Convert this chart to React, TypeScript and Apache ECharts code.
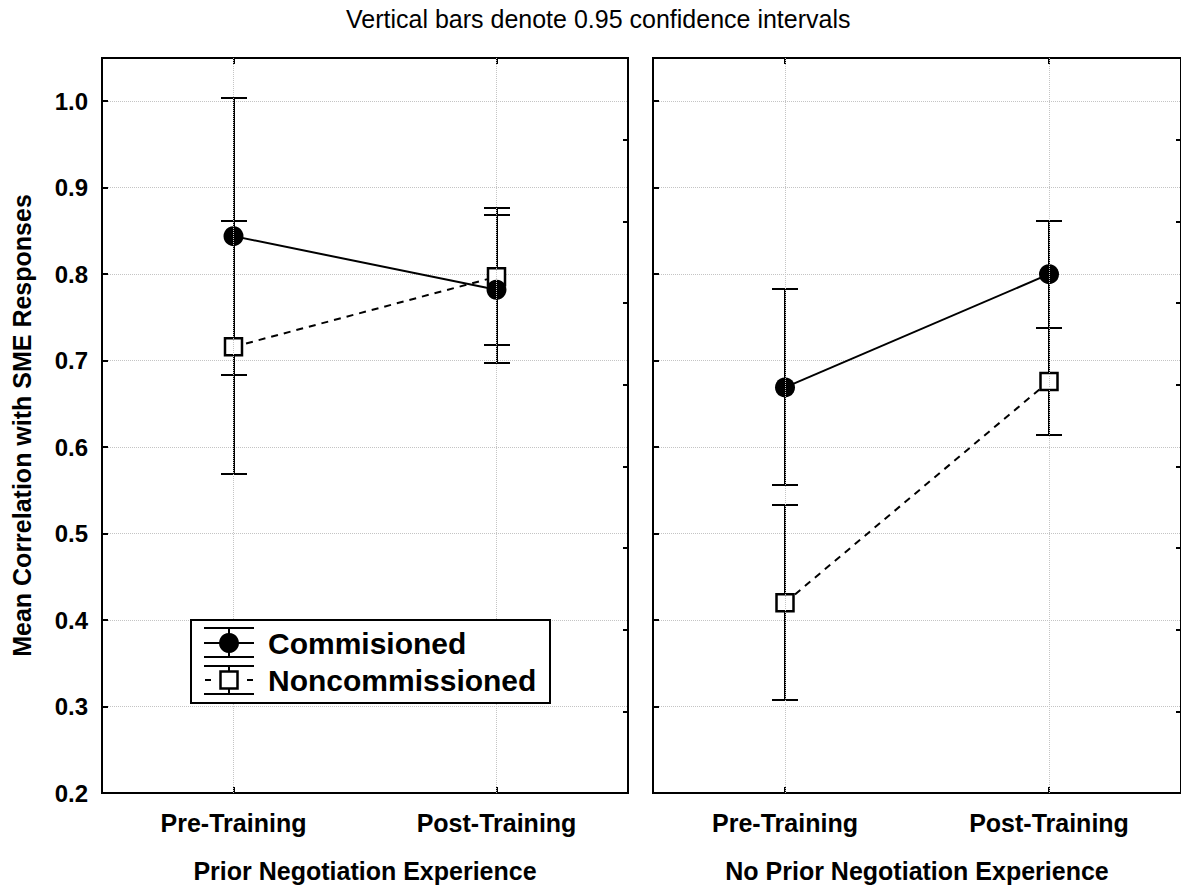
import React, { useEffect, useRef } from 'react';
import * as echarts from 'echarts';

const categories = ['Pre-Training', 'Post-Training'];
const panelNames = ['Prior Negotiation Experience', 'No Prior Negotiation Experience'];
const seriesNames = ['Commisioned', 'Noncommissioned'];
const titleText = 'Vertical bars denote 0.95 confidence intervals';
const yAxisName = 'Mean Correlation with SME Responses';

// Prior negotiation experience
const priorCommMean = [0.844, 0.782];
const priorCommLow = [0.683, 0.697];
const priorCommHigh = [1.004, 0.869];
const priorNonMean = [0.716, 0.797];
const priorNonLow = [0.569, 0.718];
const priorNonHigh = [0.862, 0.876];

// No prior negotiation experience
const noPriorCommMean = [0.669, 0.8];
const noPriorCommLow = [0.556, 0.738];
const noPriorCommHigh = [0.783, 0.861];
const noPriorNonMean = [0.42, 0.676];
const noPriorNonLow = [0.307, 0.614];
const noPriorNonHigh = [0.533, 0.738];

const FONT = '"Liberation Sans", Arial, Helvetica, sans-serif';

const panels = [
  {
    comm: priorCommMean, commLo: priorCommLow, commHi: priorCommHigh,
    non: priorNonMean, nonLo: priorNonLow, nonHi: priorNonHigh,
  },
  {
    comm: noPriorCommMean, commLo: noPriorCommLow, commHi: noPriorCommHigh,
    non: noPriorNonMean, nonLo: noPriorNonLow, nonHi: noPriorNonHigh,
  },
];

const renderErrorBar = (_params: any, api: any) => {
  const x = api.value(0);
  const lo = api.coord([x, api.value(1)]);
  const hi = api.coord([x, api.value(2)]);
  const hw = 13;
  const cx = Math.round(lo[0]);
  const yl = Math.round(lo[1]);
  const yh = Math.round(hi[1]);
  const style = { stroke: '#000', lineWidth: 2, fill: null };
  return {
    type: 'group',
    children: [
      { type: 'line', shape: { x1: cx, y1: yl, x2: cx, y2: yh }, style },
      { type: 'line', shape: { x1: cx - hw, y1: yl, x2: cx + hw, y2: yl }, style },
      { type: 'line', shape: { x1: cx - hw, y1: yh, x2: cx + hw, y2: yh }, style },
    ],
  };
};

export default function App() {
  const ref = useRef<HTMLDivElement>(null);

  useEffect(() => {
    document.body.style.margin = '0';
    if (!ref.current) return;
    const chart = echarts.init(ref.current, undefined, { renderer: 'svg' });

    const gridLine = { show: true, lineStyle: { color: '#c4c4c4', type: 'dotted', width: 1 } };
    const tickStyle = { color: '#000', width: 2 };

    const grids = [
      { left: 102, top: 58, width: 526, height: 736 },
      { left: 653, top: 58, width: 529, height: 736 },
    ].map((g) => ({ ...g, show: true, borderColor: '#000', borderWidth: 2, backgroundColor: 'transparent', z: 1 }));

    const xAxes: any[] = [];
    const yAxes: any[] = [];
    const series: any[] = [];

    panels.forEach((p, i) => {
      xAxes.push({
        type: 'category',
        gridIndex: i,
        position: 'bottom',
        data: categories,
        boundaryGap: true,
        axisLine: { show: false },
        axisTick: { show: true, inside: true, alignWithLabel: true, length: 6, lineStyle: tickStyle },
        axisLabel: { show: true, color: '#000', fontFamily: FONT, fontSize: 25, fontWeight: 'bold', margin: 17 },
        splitLine: { show: false },
        name: panelNames[i],
        nameLocation: 'middle',
        nameGap: 65,
        nameTextStyle: { color: '#000', fontFamily: FONT, fontSize: 25, fontWeight: 'bold' },
      });
      xAxes.push({
        type: 'category',
        gridIndex: i,
        position: 'top',
        data: categories,
        boundaryGap: true,
        axisLine: { show: false },
        axisTick: { show: true, inside: true, alignWithLabel: true, length: 6, lineStyle: tickStyle },
        axisLabel: { show: false },
        splitLine: { show: false },
      });
      yAxes.push({
        type: 'value',
        gridIndex: i,
        position: 'left',
        min: 0.2,
        max: 1.05,
        interval: 0.1,
        axisLine: { show: false },
        axisTick: { show: true, inside: true, length: 6, lineStyle: tickStyle },
        axisLabel: {
          show: i === 0,
          showMaxLabel: false,
          color: '#000',
          fontFamily: FONT,
          fontSize: 24,
          fontWeight: 'bold',
          margin: 14,
          formatter: (v: number) => (v > 1.001 ? '' : v.toFixed(1)),
        },
        splitLine: gridLine,
        ...(i === 0
          ? {
              name: yAxisName,
              nameLocation: 'middle',
              nameRotate: 90,
              nameGap: 68,
              nameTextStyle: { color: '#000', fontFamily: FONT, fontSize: 25, fontWeight: 'bold' },
            }
          : {}),
      });
      yAxes.push({
        type: 'value',
        gridIndex: i,
        position: 'right',
        min: 0,
        max: 9,
        interval: 1,
        axisLine: { show: false },
        axisTick: { show: true, inside: true, length: 5, lineStyle: tickStyle },
        axisLabel: { show: false },
        splitLine: { show: false },
      });

      const xi = 2 * i;
      const yi = 2 * i;
      const barData = [
        ...categories.map((_, k) => [k, p.commLo[k], p.commHi[k]]),
        ...categories.map((_, k) => [k, p.nonLo[k], p.nonHi[k]]),
      ];
      series.push({
        type: 'custom',
        xAxisIndex: xi,
        yAxisIndex: yi,
        renderItem: renderErrorBar,
        encode: { x: 0, y: [1, 2] },
        data: barData,
        z: 2,
        silent: true,
        markLine: {
          silent: true,
          symbol: ['none', 'none'],
          label: { show: false },
          lineStyle: { color: '#c4c4c4', type: 'dotted', width: 1 },
          data: categories.map((c) => ({ xAxis: c })),
        },
      });
      series.push({
        type: 'line',
        name: seriesNames[1],
        xAxisIndex: xi,
        yAxisIndex: yi,
        data: p.non,
        symbol: 'rect',
        symbolSize: 17,
        itemStyle: { color: '#fff', borderColor: '#000', borderWidth: 2.5 },
        lineStyle: { color: '#000', width: 2, type: [7, 6] },
        z: 3,
      });
      series.push({
        type: 'line',
        name: seriesNames[0],
        xAxisIndex: xi,
        yAxisIndex: yi,
        data: p.comm,
        symbol: 'circle',
        symbolSize: 20,
        itemStyle: { color: '#000', borderColor: '#000', borderWidth: 0 },
        lineStyle: { color: '#000', width: 2, type: 'solid' },
        z: 4,
      });
    });

    const ls = { stroke: '#000', lineWidth: 2 };
    const legendX = 229;
    const graphic: any[] = [
      {
        type: 'group',
        z: 100,
        children: [
          { type: 'rect', z: 100, shape: { x: 191, y: 620, width: 359, height: 83 }, style: { fill: '#fff', stroke: '#000', lineWidth: 2 } },
          // Commissioned icon
          { type: 'line', z: 101, shape: { x1: 204, y1: 628, x2: 254, y2: 628 }, style: ls },
          { type: 'line', z: 101, shape: { x1: 204, y1: 657, x2: 254, y2: 657 }, style: ls },
          { type: 'line', z: 101, shape: { x1: legendX, y1: 628, x2: legendX, y2: 657 }, style: ls },
          { type: 'line', z: 101, shape: { x1: 204, y1: 643, x2: 254, y2: 643 }, style: ls },
          { type: 'circle', z: 102, shape: { cx: legendX, cy: 643, r: 10 }, style: { fill: '#000' } },
          { type: 'text', z: 102, x: 268, y: 643, style: { text: seriesNames[0], fill: '#000', font: `bold 30px ${FONT}`, verticalAlign: 'middle', align: 'left' } },
          // Noncommissioned icon
          { type: 'line', z: 101, shape: { x1: 204, y1: 666, x2: 254, y2: 666 }, style: ls },
          { type: 'line', z: 101, shape: { x1: 204, y1: 694, x2: 254, y2: 694 }, style: ls },
          { type: 'line', z: 101, shape: { x1: legendX, y1: 666, x2: legendX, y2: 694 }, style: ls },
          { type: 'line', z: 101, shape: { x1: 205, y1: 680, x2: 211, y2: 680 }, style: ls },
          { type: 'line', z: 101, shape: { x1: 247, y1: 680, x2: 253, y2: 680 }, style: ls },
          { type: 'rect', z: 102, shape: { x: legendX - 8.5, y: 671.5, width: 17, height: 17 }, style: { fill: '#fff', stroke: '#000', lineWidth: 2.5 } },
          { type: 'text', z: 102, x: 268, y: 680, style: { text: seriesNames[1], fill: '#000', font: `bold 30px ${FONT}`, verticalAlign: 'middle', align: 'left' } },
        ],
      },
    ];

    chart.setOption({
      animation: false,
      backgroundColor: '#fff',
      title: {
        text: titleText,
        left: 346,
        top: 6,
        padding: 0,
        textStyle: { color: '#000', fontFamily: FONT, fontSize: 25, fontWeight: 'normal' },
      },
      grid: grids,
      xAxis: xAxes,
      yAxis: yAxes,
      series,
      graphic,
    });

    return () => chart.dispose();
  }, []);

  return <div ref={ref} style={{ width: 1181, height: 888 }} />;
}
